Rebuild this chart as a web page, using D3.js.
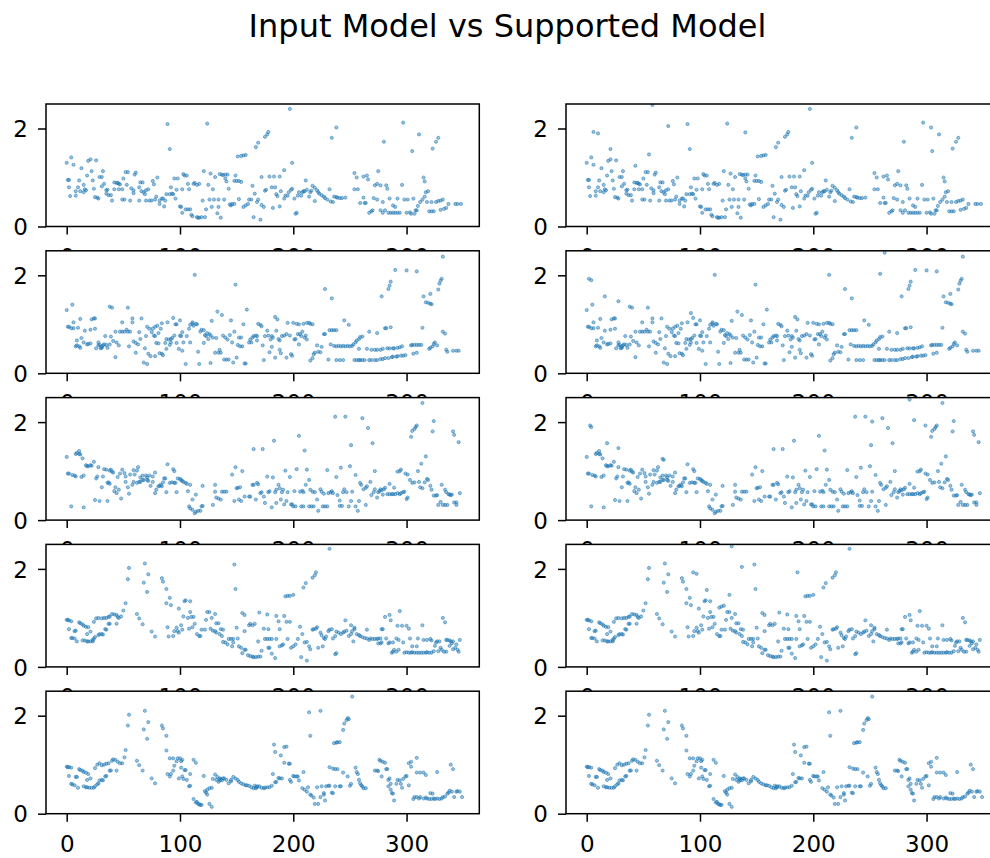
<!DOCTYPE html>
<html>
<head>
<meta charset="utf-8">
<script src="https://cdn.jsdelivr.net/npm/d3@7"></script>
<style>
  body { margin: 0; background: #fff; }
  svg { display: block; }
</style>
</head>
<body>
<svg id="chart" width="990" height="858"></svg>
<script>
// ---- text and ticks ----
const chartTitle = "Input Model vs Supported Model";
const xTickValues = [0, 100, 200, 300];
const yTickValues = [0, 2];

// ---- input model, one [index, value] pair per point, one list per row ----
const input1 = [
[0,1.30],[1,0.95],[2,0.95],[2,0.80],[3,0.62],[4,1.41],[6,1.26],[8,0.63],[8,0.72],[10,0.80],[11,0.94],[12,0.72],[13,1.19],[15,0.85],[15,0.70],[16,0.76],[17,0.74],[18,1.04],[19,1.34],[21,1.37],[22,1.13],[23,0.94],[24,0.77],[25,0.60],[27,0.59],[28,0.57],[26,1.35],[29,1.01],[31,1.01],[31,0.82],[32,1.13],[33,0.87],[35,0.67],[35,0.74],[36,0.75],[37,0.64],[39,0.64],[40,0.53],[42,0.90],[44,0.89],[45,0.89],[46,0.87],[47,0.86],[42,0.76],[46,0.76],[49,0.76],[50,0.98],[49,0.55],[51,0.55],[52,1.11],[54,1.11],[53,0.85],[56,0.53],[57,0.78],[59,0.74],[60,1.06],[61,1.10],[59,0.68],[64,0.80],[64,0.53],[65,0.90],[67,0.90],[66,0.72],[68,0.70],[69,0.66],[70,0.74],[70,0.53],[73,0.53],[72,0.76],[75,0.53],[76,0.93],[77,0.86],[78,0.55],[79,0.61],[80,1.00],[82,0.46],[82,0.53],[84,0.57],[85,0.57],[87,0.53],[86,0.41],[88,0.66],[89,2.09],[91,1.58],[91,0.66],[93,0.67],[94,0.66],[92,0.80],[95,0.98],[98,0.98],[96,0.57],[97,0.75],[100,0.41],[101,0.40],[102,0.76],[102,0.28],[103,1.07],[104,1.04],[106,1.04],[105,0.35],[107,0.35],[107,0.87],[108,0.76],[109,0.35],[110,0.24],[111,0.21],[112,0.87],[113,0.89],[115,0.85],[115,0.19],[116,0.18],[117,0.18],[117,0.87],[119,0.19],[122,0.19],[120,0.53],[121,1.13],[123,0.35],[124,2.10],[125,0.85],[126,0.55],[127,1.08],[128,0.40],[129,0.76],[130,0.55],[131,1.01],[133,0.27],[134,0.40],[134,0.55],[135,1.07],[137,1.06],[138,1.05],[136,0.18],[139,0.55],[140,1.06],[142,1.06],[141,0.92],[140,0.98],[143,0.77],[144,0.45],
[145,0.43],[146,0.46],[148,0.46],[148,0.93],[150,0.93],[152,0.93],[154,0.91],[149,1.04],[151,1.43],[154,1.44],[156,1.45],[158,1.46],[152,0.56],[156,0.40],[158,0.43],[160,0.46],[161,0.55],[163,0.55],[164,0.83],[165,0.19],[166,0.67],[168,0.50],[169,0.55],[167,1.62],[169,1.71],[171,0.14],[172,1.01],[172,0.44],[174,0.40],[175,0.73],[176,0.75],[175,1.83],[177,1.88],[178,1.93],[179,1.02],[183,1.02],[188,1.02],[181,0.80],[184,0.80],[182,0.38],[185,0.66],[186,0.62],[188,0.41],[189,0.72],[192,0.57],[193,0.63],[195,0.63],[196,0.70],[192,1.15],[197,2.40],[198,0.75],[199,0.77],[199,1.30],[201,0.57],[202,0.26],[203,0.28],[204,0.63],[207,0.63],[209,0.72],[210,0.72],[205,0.70],[208,0.70],[211,0.94],[212,0.75],[214,0.61],[215,0.70],[216,0.73],[217,0.83],[219,0.79],[221,0.74],[219,0.52],[222,0.70],[223,0.67],[225,0.64],[227,0.61],[228,0.58],[230,0.55],[232,0.76],[233,0.51],[235,0.50],[234,1.81],[238,2.02],[236,0.61],[238,0.60],[239,0.59],[241,0.58],[243,0.58],[246,0.59],
[254,1.09],[254,0.76],[257,0.76],[256,1.00],[259,0.48],[263,0.48],[264,0.48],[262,1.02],[265,1.04],[262,0.59],[266,0.96],[267,0.28],[269,0.31],[270,0.33],[271,0.58],[274,0.55],[272,0.84],[274,0.87],[275,1.13],[277,0.33],[277,0.84],[279,0.50],[279,0.28],[281,0.33],[280,1.73],[282,0.84],[283,0.77],[284,0.28],[286,0.28],[288,0.28],[290,0.28],[292,0.28],[294,0.28],[285,0.57],[288,0.43],[290,0.40],[292,0.57],[296,0.85],[297,2.12],[298,0.55],[301,0.55],[300,0.28],[303,0.29],[304,0.26],[307,0.26],[305,1.54],[306,0.57],[308,0.33],[309,0.33],[310,0.42],[311,1.88],[312,0.50],[314,0.55],[316,0.61],[317,0.70],[319,0.72],[315,1.00],[316,0.92],[320,0.31],[322,0.31],[324,0.31],[318,0.50],[322,0.50],[326,0.50],[328,0.52],[330,0.53],[332,0.55],[323,1.59],[326,1.73],[328,1.81],[330,0.34],[333,0.36],[335,0.38],[337,0.46],[343,0.46],[345,0.46],[348,0.46]
];

const input2 = [
[0,1.29],[1,0.95],[2,0.95],[4,0.92],[6,0.92],[5,1.40],[6,1.04],[8,0.55],[9,0.57],[9,0.67],[10,0.93],[11,0.55],[12,0.52],[12,1.11],[13,0.72],[15,0.63],[16,0.87],[18,0.59],[19,0.60],[21,0.61],[21,0.89],[22,1.10],[24,1.12],[25,1.12],[25,0.91],
[26,0.51],[28,0.57],[29,0.58],[31,0.54],[32,0.57],[33,0.59],[34,0.76],[35,0.58],[36,0.52],[38,0.59],[28,0.63],[30,0.51],[31,0.52],[38,1.36],[40,1.34],[39,0.75],[41,0.66],[43,0.33],[44,0.63],[46,0.57],[43,0.85],
[47,0.85],[49,0.85],[51,0.85],[53,0.89],[54,0.85],[56,0.85],[49,1.04],[54,1.34],[55,0.55],[58,1.12],[58,1.04],[59,0.65],[61,0.62],[63,0.59],[61,0.42],[64,0.84],[65,0.70],[66,1.12],[68,0.22],[69,0.51],[70,0.76],[71,0.19],[71,0.95],[72,0.40],[74,0.35],[73,0.91],[75,0.84],[76,0.91],[78,0.95],[80,0.97],[81,0.82],[83,0.91],[77,0.77],[78,0.76],[79,0.62],[81,0.61],[78,0.35],[82,0.41],[84,0.40],[85,0.37],[84,1.02],
[87,0.62],[88,0.70],[90,0.69],[92,0.70],[93,0.72],[95,0.77],[88,0.50],[89,1.04],[91,0.58],[92,0.63],[94,1.13],[96,1.00],[97,1.00],[97,0.62],[99,0.50],[100,1.08],[100,0.77],[101,0.76],[102,0.84],[102,0.46],[103,0.63],[105,0.19],[106,0.76],[108,0.91],[109,0.99],[111,1.04],[112,0.97],[109,0.63],[111,1.01],[113,2.01],[114,1.01],[115,1.00],[116,0.44],[117,0.19],[118,0.85],[119,0.89],[121,0.88],[122,0.78],[124,0.82],[126,0.80],[127,0.77],[121,0.62],[123,0.76],[125,0.70],[127,0.21],[128,1.07],[129,0.73],[131,0.42],[132,0.72],[133,1.26],[134,0.42],[136,0.42],[137,1.19],[135,0.48],
[138,0.77],[140,0.73],[142,0.69],[139,0.28],[141,0.28],[143,0.28],[144,0.78],[145,1.08],[146,0.63],[148,0.85],[147,0.22],[150,0.32],[149,1.81],[151,0.58],[153,0.55],[155,0.55],[152,0.73],[154,0.73],[156,1.00],[157,0.20],[158,0.20],[159,1.30],[161,0.63],[162,0.69],[164,0.73],[165,0.76],[167,0.77],[168,0.76],[163,0.63],[169,1.01],[171,0.99],[172,0.96],[168,0.67],[173,0.57],[174,0.27],[175,0.76],[177,0.87],[178,0.77],[180,0.69],[181,0.76],[179,0.43],[181,0.54],[182,0.73],[184,0.32],[184,1.15],[186,1.10],[185,0.87],
[187,0.70],[188,0.67],[190,0.76],[192,0.77],[194,0.80],[188,0.48],[189,0.41],[194,0.32],[195,1.03],[197,0.77],[198,0.39],[199,0.36],[200,1.03],[203,1.01],[205,1.00],[201,0.69],[202,0.70],[204,0.80],[206,0.80],[208,0.85],[209,1.01],[211,0.77],[212,1.03],[214,1.03],[215,1.01],[205,0.59],[207,0.76],[210,0.73],[212,0.69],[217,1.00],[215,0.26],[217,0.31],[218,0.39],[219,0.42],[221,0.57],[222,0.44],[224,0.43],[225,0.54],[227,0.80],[228,0.80],[228,1.72],[231,0.28],[232,0.88],[234,0.88],[236,0.88],[238,0.88],[233,0.59],[234,1.53],
[236,0.56],[238,0.55],[240,0.56],[242,0.55],[244,0.56],[246,0.55],[248,0.56],[250,0.55],[252,0.56],[253,0.59],[238,0.27],[241,0.27],[244,0.27],[245,1.08],[249,0.99],[254,0.27],[256,0.27],[258,0.27],[259,0.27],[261,0.27],[263,0.27],[255,0.63],[256,0.67],[258,0.70],[259,0.74],[261,0.75],[258,0.50],
[265,0.50],[269,0.48],[272,0.48],[274,0.48],[277,0.48],[279,0.50],[267,0.85],[267,0.27],[269,0.27],[272,0.27],[274,0.27],[277,0.29],[279,0.29],[281,0.31],[274,0.82],[278,1.57],[281,0.92],[282,0.92],[284,1.72],[285,1.79],[286,1.87],[286,0.94],
[283,0.51],[285,0.51],[288,0.51],[289,0.51],[292,0.52],[294,0.53],[296,0.55],[284,0.31],[287,0.33],[288,0.34],[291,0.34],[292,0.35],[295,0.36],[297,0.36],[299,0.37],[290,2.11],[300,2.10],
[304,0.57],[305,0.58],[307,0.58],[309,0.58],[311,0.58],[313,0.58],[306,0.40],[309,0.42],[309,2.08],[314,0.93],[315,1.57],[317,1.45],[319,1.44],[321,1.42],[322,1.41],[320,0.50],[321,0.52],[323,0.55],[321,1.62],[324,0.60],[325,0.63],[327,0.57],[328,1.71],[329,1.83],[330,1.89],[331,1.93],[332,2.38],[332,0.85],[334,0.81],[335,0.48],[336,0.44],[341,0.46],[344,0.46],[346,0.46]
];

const input3 = [
[0,1.29],[1,0.95],[2,0.95],[4,0.28],[5,0.92],[7,0.91],[8,0.89],[8,1.35],[9,1.37],[11,1.41],[11,1.35],[12,1.34],[14,1.26],[13,0.88],[15,0.26],[15,0.91],[17,1.12],[18,1.10],[19,1.10],[21,1.12],[22,1.11],[24,1.19],[25,0.41],[26,0.85],[27,0.89],[28,1.08],[29,0.39],[31,0.67],[32,0.89],[33,1.04],[35,1.03],[36,0.39],[37,0.77],[38,1.01],[36,0.76],[38,0.74],[39,1.03],[40,0.99],[41,0.97],[42,0.59],[43,0.67],[44,0.55],[45,0.88],[47,0.95],[46,0.62],[48,0.44],[49,1.03],[51,0.96],[52,0.89],[52,0.78],[54,0.67],[55,0.54],
[56,0.93],[58,0.72],[59,1.02],[60,0.93],[62,1.01],[63,1.08],[59,0.78],[62,0.76],[64,0.78],[65,0.78],[67,0.82],[65,0.87],[67,0.91],[70,0.91],[71,0.87],[73,0.91],[76,0.89],[78,0.97],[68,0.82],[71,0.82],[72,0.80],[74,0.70],[76,0.78],[78,0.55],[79,0.62],[81,0.69],[82,0.70],[83,0.72],[84,0.69],[85,0.77],[86,0.85],[87,0.85],[88,0.57],[89,1.14],[91,0.76],[93,0.77],[95,0.76],[96,0.76],[94,1.04],[95,1.00],[97,0.57],
[98,0.85],[100,0.84],[101,0.82],[103,0.78],[105,0.76],[106,0.74],[109,0.72],[102,0.80],[107,0.59],[108,0.28],[109,0.24],[111,0.21],[113,0.14],[114,0.17],[116,0.19],[118,0.19],[111,0.42],[114,0.52],[119,0.28],[120,0.29],[120,0.70],
[129,0.31],[131,0.58],[131,0.72],[132,0.46],[134,0.44],[136,0.42],[137,0.58],[139,0.58],[141,0.58],[146,0.93],[148,0.39],[149,1.08],[150,0.65],[151,0.66],[153,0.67],[152,0.42],[154,0.39],[155,1.00],[157,0.48],[161,0.48],[162,0.48],[164,0.72],[165,0.72],[165,1.45],[167,0.42],[168,0.76],[169,0.73],[171,0.55],[172,0.57],[173,1.45],[174,0.48],[175,0.35],[177,0.89],[178,0.57],[179,0.59],[181,0.26],[182,0.87],[183,1.62],
[184,0.57],[185,0.62],[187,0.72],[188,0.65],[190,0.57],[191,0.62],[185,0.35],[189,0.42],[192,0.32],[194,0.39],[193,1.01],[195,0.57],[197,0.88],[198,0.32],[199,0.32],[200,0.28],[202,0.28],[201,0.59],[203,1.04],[205,1.72],[206,0.58],[208,0.60],[209,0.57],[211,0.72],[214,0.82],[207,0.28],[209,0.28],[210,1.42],[212,1.03],[214,0.28],[216,0.28],[218,0.28],[215,0.62],[217,0.58],[219,0.57],[221,0.42],[222,0.19],[224,0.63],[225,0.58],[227,0.54],[226,0.28],[228,0.28],[230,0.28],[230,1.02],
[231,0.55],[233,0.57],[234,0.59],[235,0.55],[237,2.11],[238,0.88],[239,0.51],[241,0.40],[241,0.29],[243,0.29],[242,1.07],[244,0.57],[245,0.63],[246,2.11],[247,0.57],[249,0.28],[251,0.39],[250,1.10],[251,1.53],[252,0.58],[255,0.92],[255,0.28],[257,0.19],[258,0.39],[259,0.76],[260,0.72],[262,0.63],[264,0.66],[265,0.69],[261,2.08],[264,0.31],[266,1.88],[268,0.78],[269,0.51],[271,0.57],[270,1.57],[272,1.00],
[272,0.63],[274,0.46],[275,0.57],[276,0.59],[277,0.63],[278,0.61],[280,0.63],[281,0.66],[283,0.53],[285,0.53],[287,0.53],[288,0.53],[290,0.53],[292,0.55],[294,0.53],[295,0.55],[279,0.52],[285,0.74],[289,0.66],[292,0.99],[294,1.00],[295,1.03],[297,0.57],[298,0.58],[299,0.95],[301,0.93],[303,0.82],[300,0.43],[301,0.46],
[304,1.70],[305,1.82],[307,1.86],[308,1.90],[309,1.93],[305,0.76],[307,0.77],[310,1.00],[311,0.78],[312,0.67],[314,0.65],[313,1.15],[314,2.39],[316,0.77],[318,0.84],[319,0.82],[321,0.70],[322,0.62],[317,1.30],[323,1.81],[324,2.02],[324,0.50],[326,0.50],[327,0.51],[328,0.31],[330,0.37],[332,0.31],[334,0.31],[336,0.31],[331,0.72],[334,0.62],[335,0.57],[337,0.53],[338,0.52],[339,0.51],[340,0.52],[341,1.81],[342,1.74],[342,0.36],[344,0.36],[344,0.31],[346,1.59],[347,0.55]
];

const input4 = [
[0,0.96],[1,0.96],[2,0.95],[4,0.93],[2,0.77],[4,0.59],[5,0.59],[7,0.58],[7,0.73],[8,0.74],[9,0.52],[11,0.91],[12,0.89],[14,0.87],[15,0.84],[17,0.82],[19,0.81],[14,0.54],[16,0.54],[18,0.52],[19,0.52],[21,0.52],[23,0.52],[18,0.67],[21,0.72],[23,0.55],[24,0.58],[25,0.61],[24,0.92],[26,0.99],[28,1.00],[28,0.65],[29,0.67],[31,0.67],[32,0.66],[31,0.99],[33,1.00],[35,1.00],[37,1.02],[34,0.77],[35,0.76],[37,0.88],[38,0.88],[38,1.03],[40,1.08],[42,1.07],[44,1.06],[45,1.02],[46,1.00],[48,1.03],[44,0.88],[50,1.15],[52,1.30],[54,1.79],[55,2.02],
[62,1.08],[64,0.99],[67,0.87],[68,1.72],[69,2.11],[71,1.53],[72,1.89],[75,0.72],[78,0.62],[84,1.81],[85,1.74],[88,1.59],[88,1.30],[89,0.81],[90,0.62],[91,1.41],[92,1.26],[94,0.63],[95,0.73],[97,0.80],[98,0.73],[99,0.70],[99,1.19],[101,0.85],[102,0.76],[103,1.03],[104,1.34],[105,1.36],[107,1.00],[108,0.78],[109,1.12],[109,1.34],[110,1.02],[112,1.02],[111,0.81],[113,0.88],[115,0.67],[117,0.63],[118,0.63],[119,0.76],[122,0.76],[123,0.96],[124,1.12],[126,1.12],[127,0.78],[129,0.74],[131,0.73],[132,0.70],[128,1.00],[131,1.08],[132,0.89],[134,0.89],[135,0.67],[137,0.63],[136,0.77],[138,0.76],
[138,0.51],[140,0.50],[142,0.46],[143,0.57],[145,0.57],[147,0.57],[146,0.42],[147,0.50],[148,2.09],[149,1.59],[150,0.80],[151,0.58],[152,0.42],[154,0.39],[155,0.28],[157,0.35],[158,0.35],[160,0.24],[162,0.22],[164,0.21],[165,0.20],[167,0.20],[169,0.21],[171,0.21],[155,1.10],[157,1.06],[157,0.73],[161,0.85],[162,0.88],[164,0.85],[166,0.88],[169,0.52],[170,1.11],[172,0.33],[174,0.78],[175,0.57],[177,0.57],[179,0.57],[181,0.57],[177,1.07],[178,0.39],[179,0.39],[178,0.77],[181,0.27],[184,0.18],
[185,0.57],[185,1.04],[187,0.93],[188,0.77],[188,0.42],[190,0.44],[191,0.46],[192,1.04],[194,0.92],[197,0.92],[193,1.44],[195,1.45],[197,1.45],[200,1.47],[195,0.57],[198,0.39],[200,0.42],[202,0.46],[204,0.57],[206,0.82],[207,0.20],[208,0.67],[209,1.62],[211,1.71],[210,0.50],[212,0.51],[212,0.13],[214,0.42],[215,0.36],[217,0.76],[218,0.77],[220,0.78],[217,1.82],[219,1.87],[220,1.93],[221,0.81],[222,0.39],[224,0.70],[225,0.65],[227,0.59],[229,0.62],[231,0.73],[232,0.76],[234,0.77],[226,0.42],[228,0.57],[232,2.41],
[235,0.58],[237,0.63],[237,0.26],[238,0.28],[238,0.72],[240,0.70],[242,0.67],[244,0.70],[245,0.72],[247,0.74],[246,0.95],[249,0.63],[251,0.67],[252,0.73],[254,0.77],[256,0.67],[258,0.65],[259,0.63],[261,0.61],[263,0.59],[265,0.58],[267,0.55],[268,0.58],[270,0.57],[272,0.57],[274,0.57],[275,0.58],[277,0.58],[251,0.85],[253,0.52],[254,0.80],[265,0.76],[275,0.48],[277,0.48],[278,0.50],[278,0.77],[279,0.77],[281,1.02],[282,0.58],[284,0.48],[285,0.50],[285,1.06],[286,0.95],
[287,0.29],[288,0.31],[289,0.35],[291,0.31],[293,0.35],[288,0.50],[292,0.84],[291,0.58],[293,0.55],[294,1.14],[296,0.84],[297,0.50],[298,0.29],[300,0.30],[302,0.29],[304,0.29],[305,0.30],[307,0.29],[309,0.29],[311,0.29],[313,0.29],[315,0.29],[317,0.29],[318,0.30],[320,0.29],[322,0.29],[324,0.32],[300,0.84],[302,0.78],[303,0.58],[305,0.42],[309,0.42],[310,0.58],[314,0.85],[315,0.55],[318,0.55],[321,0.57],[322,0.54],[325,0.43],[326,0.50],[327,0.52],[329,0.52],[328,0.32],[330,0.39],[331,0.35],[333,0.31],[335,0.31],[332,1.00],[334,0.91],[335,0.55],[336,0.55],[338,0.54],[339,0.52],[341,0.52],[338,0.43],[340,0.48],[341,0.36],[343,0.39],[345,0.35],[346,0.31],[344,0.46],[347,0.55]
];

const input5 = [
[0,0.96],[1,0.95],[2,0.95],[4,0.94],[2,0.77],[4,0.61],[5,0.60],[7,0.58],[8,0.75],[9,0.75],[10,0.53],[11,0.91],[12,0.89],[14,0.88],[15,0.85],[17,0.84],[19,0.81],[15,0.56],[17,0.54],[18,0.54],[20,0.53],[22,0.53],[24,0.53],[18,0.69],[21,0.72],[25,0.56],[27,0.60],[28,0.62],[25,0.93],[27,1.00],[29,1.03],[29,0.68],[31,0.69],[32,0.68],[31,0.99],[33,1.00],[35,1.02],[37,1.03],[34,0.76],[35,0.77],[38,0.88],[39,0.88],[40,1.08],[41,1.11],[43,1.10],[45,1.06],[47,1.03],[49,1.03],[44,0.88],[51,1.15],[52,1.30],[54,1.80],[55,2.02],
[62,1.08],[64,0.99],[67,0.88],[68,1.72],[69,2.10],[71,1.53],[72,1.87],[75,0.72],[78,0.62],[84,1.80],[85,1.74],[88,1.59],[88,1.29],[89,0.81],[91,0.76],[91,1.13],[92,0.81],[94,1.13],[94,0.88],[95,0.98],[97,1.07],[98,1.13],[100,1.13],[99,0.72],[101,1.07],[102,1.10],[101,0.94],[102,0.76],[104,0.89],[105,0.89],[103,0.71],[106,0.69],[108,0.56],[109,0.57],[109,0.81],[112,0.30],[112,1.10],[114,1.04],[115,0.24],[116,0.20],[117,0.19],[118,0.18],[119,0.18],[114,0.23],[121,0.77],[122,0.46],[123,0.43],[124,0.49],[126,0.52],[128,0.53],[124,0.39],[126,0.20],[128,0.14],
[129,0.71],[131,0.80],[133,0.75],[135,0.68],[136,0.71],[138,0.72],[132,0.69],[134,0.65],[135,0.72],[137,0.68],[139,0.72],[141,0.69],[143,0.62],[145,0.66],[145,0.69],[147,0.75],[149,0.72],[151,0.69],[152,0.65],[154,0.62],[156,0.60],[158,0.58],[159,0.58],[161,0.57],[163,0.54],[165,0.52],[167,0.52],[168,0.54],[170,0.56],[172,0.53],[174,0.52],[175,0.53],[177,0.54],[179,0.54],[181,0.57],[166,0.57],[168,0.56],
[182,0.81],[183,1.41],[184,0.64],[185,0.65],[187,0.73],[188,0.72],[190,0.72],[184,1.26],[189,1.19],[192,1.04],[192,1.36],[194,1.37],[196,1.02],[197,1.02],[197,0.69],[198,0.65],[200,0.77],[201,0.76],[203,0.76],[204,0.76],[205,0.68],[208,0.52],[209,0.85],[210,0.49],[212,0.45],[213,0.54],[215,0.39],[216,0.37],[218,0.33],[214,2.07],[215,1.59],[219,0.20],[222,0.20],[221,0.54],[224,0.34],[224,2.10],[225,0.56],[227,0.39],[228,0.27],[227,0.42],[229,0.56],[231,0.57],[232,0.57],[234,0.43],[235,0.42],[232,0.95],[235,0.92],[237,0.91],[239,0.91],[236,1.44],[238,1.45],[239,1.46],[241,1.46],[237,0.56],[241,0.56],[242,0.56],[244,0.84],[244,1.71],[245,1.84],[247,1.91],[248,1.95],[249,1.93],[248,0.76],[250,0.57],[251,0.61],[252,2.39],
[255,0.94],[256,0.85],[257,0.81],[258,0.69],[259,0.62],[260,0.58],[261,0.56],[262,0.52],[264,0.52],[272,0.88],[274,0.88],[275,0.87],[277,1.08],[279,1.06],[281,1.04],[282,0.91],[283,0.91],[276,1.10],[278,0.76],[284,0.69],[285,0.72],[284,0.56],[286,0.49],[287,0.42],[288,0.41],[289,0.27],[286,0.61],[291,0.61],[292,0.69],[294,0.68],[295,0.61],[296,0.53],[297,0.71],[299,0.76],[300,0.77],[302,1.03],[304,1.06],[304,0.96],[302,0.58],[309,1.14],
[306,0.30],[307,0.34],[309,0.34],[311,0.31],[312,0.34],[315,0.31],[317,0.33],[318,0.31],[320,0.30],[322,0.30],[324,0.31],[325,0.30],[327,0.31],[329,0.30],[331,0.31],[332,0.34],[334,0.35],[336,0.41],[337,0.43],[338,0.47],[340,0.45],[342,0.34],[344,0.45],[345,0.46],[347,0.45],[349,0.34],[309,0.84],[312,0.84],[315,0.84],[317,0.79],[321,0.42],[323,0.41],[327,0.85],[339,1.00],[341,0.91]
];

// ---- supported model: the input points plus the outlying values it adds ----
const supportedExtra1 = [[6,1.93],[10,1.90],[21,1.58],[43,1.24],[55,1.47],[58,2.48],[72,2.05],[140,1.92],[304,2.02]];
const supportedExtra2 = [[2,1.93],[4,1.90],[16,1.57],[28,1.47],[92,1.23],[214,2.01],[259,2.03],[263,2.46]];
const supportedExtra3 = [[3,1.93],[4,1.90],[18,1.57],[28,1.47],[67,1.25],[68,1.23],[252,2.01],[285,2.46],[289,2.04],[299,1.93]];
const supportedExtra4 = [[94,1.93],[97,1.90],[106,1.57],[117,1.21],[119,1.23],[121,1.25],[126,1.47],[128,2.46],[137,2.04],[186,1.93]];
const supportedExtra5 = [];

const inputRows = [input1, input2, input3, input4, input5];
const supportedRows = [
  input1.concat(supportedExtra1),
  input2.concat(supportedExtra2),
  input3.concat(supportedExtra3),
  input4.concat(supportedExtra4),
  input5.concat(supportedExtra5)
];

// ---- layout ----
const svg = d3.select("#chart");
const W = 990, H = 858;
const colLeft = [46, 566];
const axW = 433.3;
const rowTop = [104, 250.8, 397.6, 544.4, 691.2];
const axH = 122.5;
const tickLen = 8;
const tickFont = 23;
const dotColor = "#1f77b4";

svg.append("rect").attr("width", W).attr("height", H).attr("fill", "#fff");

svg.append("text")
  .attr("x", 507.5).attr("y", 37)
  .attr("text-anchor", "middle")
  .attr("font-family", "DejaVu Sans, sans-serif")
  .attr("font-size", 32)
  .attr("fill", "#000")
  .text(chartTitle);

const x = d3.scaleLinear().domain([-18.27, 364.2]).range([0, axW]);
const y = d3.scaleLinear().domain([0, 2.5]).range([axH, 0]);

let panelId = 0;
rowTop.forEach((top, r) => {
  [inputRows[r], supportedRows[r]].forEach((pts, c) => {
    const g = svg.append("g").attr("transform", `translate(${colLeft[c]},${top})`);
    const clipId = "clip" + (panelId++);
    g.append("clipPath").attr("id", clipId)
      .append("rect").attr("width", axW).attr("height", axH);

    // axes background hides the tick labels of the row above
    g.append("rect").attr("width", axW).attr("height", axH).attr("fill", "#fff");

    g.append("g").attr("clip-path", `url(#${clipId})`)
      .selectAll("circle").data(pts).join("circle")
      .attr("cx", d => x(d[0]))
      .attr("cy", d => y(d[1]))
      .attr("r", 1.6)
      .attr("fill", dotColor).attr("fill-opacity", 0.45)
      .attr("stroke", dotColor).attr("stroke-opacity", 0.85).attr("stroke-width", 0.6);

    const xAxis = d3.axisBottom(x).tickValues(xTickValues).tickSize(tickLen).tickPadding(7).tickFormat(d3.format("d"));
    const yAxis = d3.axisLeft(y).tickValues(yTickValues).tickSize(tickLen).tickPadding(7).tickFormat(d3.format("d"));

    const gx = g.append("g").attr("transform", `translate(0,${axH})`).call(xAxis);
    const gy = g.append("g").call(yAxis);
    [gx, gy].forEach(a => {
      a.select(".domain").remove();
      a.selectAll("line").attr("stroke", "#000").attr("stroke-width", 1.5);
      a.selectAll("text").attr("font-family", "DejaVu Sans, sans-serif")
        .attr("font-size", tickFont).attr("fill", "#000");
    });
    gx.selectAll("text").attr("dy", null).attr("y", 38 - 0).attr("dominant-baseline", "auto");
    gy.selectAll("text").attr("dy", "0.36em").attr("x", -(tickLen + 10));

    g.append("rect").attr("width", axW).attr("height", axH)
      .attr("fill", "none").attr("stroke", "#000").attr("stroke-width", 1.5);
  });
});
</script>
</body>
</html>
